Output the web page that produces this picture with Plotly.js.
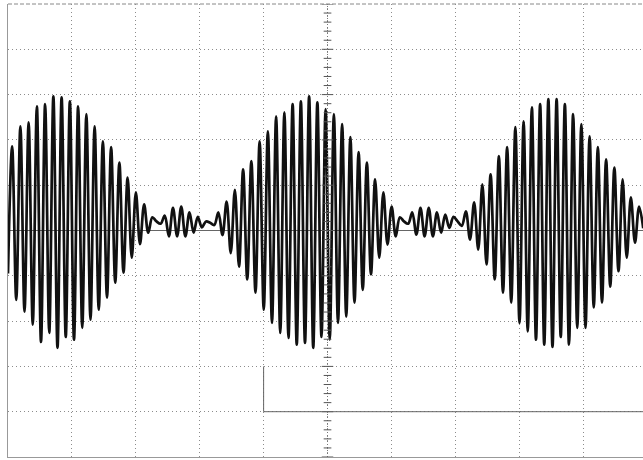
<!DOCTYPE html>
<html>
<head>
<meta charset="utf-8">
<script src="https://cdn.plot.ly/plotly-3.0.1.min.js"></script>
<style>html,body{margin:0;padding:0;background:#fff;}#chart{width:643px;height:460px;}</style>
</head>
<body>
<div id="chart"></div>
<script>
// Oscilloscope trace (units: screen divisions)
// carrier period, in horizontal divisions
const carrierPeriod = 0.1291;
// trough value of each carrier cycle (vertical divisions)
const troughs = [-0.95, -1.53, -1.79, -2.08, -2.46, -2.26, -2.59, -2.35, -2.41, -2.15,
  -1.97, -1.75, -1.48, -1.15, -0.93, -0.60, -0.30, -0.05, 0.20, 0.33,
  0.50, 0.53, 0.40, 0.30, 0.20, 0.12, -0.10, -0.50, -0.80, -1.08,
  -1.37, -1.75, -2.04, -2.26, -2.37, -2.52, -2.48, -2.59, -2.35, -2.41,
  -2.04, -1.90, -1.59, -1.31, -0.97, -0.60, -0.31, -0.13, 0.20, 0.40,
  0.50, 0.50, 0.40, 0.35, 0.30, 0.10, -0.20, -0.42, -0.75, -1.08,
  -1.37, -1.59, -2.04, -2.23, -2.41, -2.52, -2.57, -2.35, -2.52, -2.15,
  -2.15, -1.70, -1.59, -1.24, -0.90, -0.60, -0.27, 0.05];
// crest value of each carrier cycle (vertical divisions)
const crests = [1.86, 2.30, 2.39, 2.74, 2.79, 2.96, 2.94, 2.85, 2.74, 2.57,
  2.30, 1.97, 1.84, 1.50, 1.17, 0.84, 0.58, 0.29, 0.15, -0.13,
  -0.13, -0.13, -0.05, 0.07, 0.17, 0.40, 0.64, 0.90, 1.35, 1.53,
  1.97, 2.19, 2.52, 2.61, 2.79, 2.85, 2.96, 2.83, 2.68, 2.57,
  2.35, 2.06, 1.73, 1.50, 1.13, 0.84, 0.53, 0.29, 0.15, -0.09,
  -0.13, -0.13, -0.05, 0.06, 0.20, 0.42, 0.62, 1.02, 1.24, 1.64,
  1.84, 2.28, 2.41, 2.72, 2.79, 2.90, 2.90, 2.79, 2.57, 2.35,
  2.08, 1.84, 1.57, 1.39, 1.13, 0.73, 0.53];

// interleave troughs and crests into one trace, half a carrier period apart
const tx = [], ty = [];
for (let k = 0; k < troughs.length; k++) {
  tx.push(k * carrierPeriod); ty.push(troughs[k]);
  if (k < crests.length) { tx.push(k * carrierPeriod + carrierPeriod / 2); ty.push(crests[k]); }
}

const gridCol = '#8c8c8c';
const gridDash = '1px,3px';
const shapes = [];
// centre vertical graticule line with its small ticks
shapes.push({type:'line', xref:'x', yref:'y', x0:5, x1:5, y0:-5, y1:5, line:{color:'#777', width:1, dash:'1px,2px'}});
for (let i = -25; i <= 25; i++) {
  const y = i * 0.2;
  const half = (i % 5 === 0) ? 0.09 : 0.06;
  shapes.push({type:'line', xref:'x', yref:'y', x0:5 - half, x1:5 + half, y0:y, y1:y, line:{color:'#555', width:1}});
}
// darker scan segments seen in the lower part of the screen
shapes.push({type:'line', xref:'x', yref:'y', x0:4, x1:4, y0:-3, y1:-4, line:{color:'#666', width:1}});
shapes.push({type:'line', xref:'x', yref:'y', x0:4, x1:10, y0:-4, y1:-4, line:{color:'#666', width:1}});
shapes.push({type:'line', xref:'paper', yref:'paper', x0:0, x1:1, y0:1, y1:1, line:{color:'#888', width:1, dash:'4px,2px'}});

const trace = {
  x: tx, y: ty, type: 'scatter', mode: 'lines',
  line: {color: '#111', width: 2.7, shape: 'spline', smoothing: 1},
  hoverinfo: 'skip'
};

const layout = {
  width: 643, height: 460,
  margin: {l: 8, r: 0, t: 4, b: 3, pad: 0},
  paper_bgcolor: '#fff', plot_bgcolor: '#fff',
  showlegend: false,
  xaxis: {range: [0, 9.937], dtick: 1, tick0: 0, showgrid: true, gridcolor: gridCol, griddash: gridDash, gridwidth: 1,
          zeroline: false, showticklabels: false, ticks: '', showline: true, linecolor: '#999', linewidth: 1, mirror: false},
  yaxis: {range: [-5, 5], dtick: 1, tick0: 0, showgrid: true, gridcolor: gridCol, griddash: gridDash, gridwidth: 1,
          zeroline: true, zerolinecolor: '#666', zerolinewidth: 1, showticklabels: false, ticks: '',
          showline: true, linecolor: '#999', linewidth: 1, mirror: false},
  shapes: shapes
};

Plotly.newPlot('chart', [trace], layout, {displayModeBar: false, staticPlot: true});
</script>
</body>
</html>
